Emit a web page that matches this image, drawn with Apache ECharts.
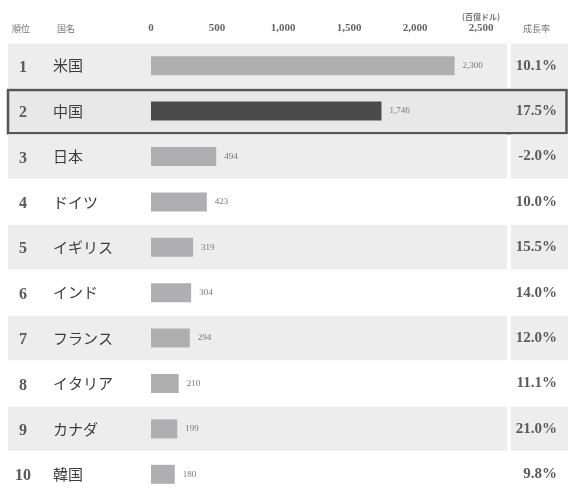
<!DOCTYPE html>
<html>
<head>
<meta charset="utf-8">
<script src="https://cdn.jsdelivr.net/npm/echarts@6/dist/echarts.min.js"></script>
<style>
  html, body { margin: 0; padding: 0; background: #ffffff; }
  #chart { width: 568px; height: 497px; }
</style>
</head>
<body>
<div id="chart"></div>
<script>
// GDP ranking (百億ドル) with growth rates
const ranks = ['1', '2', '3', '4', '5', '6', '7', '8', '9', '10'];
const countries = ['米国', '中国', '日本', 'ドイツ', 'イギリス', 'インド', 'フランス', 'イタリア', 'カナダ', '韓国'];
const gdpValues = [2300, 1746, 494, 423, 319, 304, 294, 210, 199, 180];
const growthRates = ['10.1%', '17.5%', '-2.0%', '10.0%', '15.5%', '14.0%', '12.0%', '11.1%', '21.0%', '9.8%'];
const tickValues = [0, 500, 1000, 1500, 2000, 2500];
const highlightCountry = '中国';

const SERIF = '"Liberation Serif", "DejaVu Serif", serif';
const SANS = '"Noto Sans CJK JP", "Noto Sans", sans-serif';

function commas(v) {
  return String(v).replace(/\B(?=(\d{3})+(?!\d))/g, ',');
}

const chart = echarts.init(document.getElementById('chart'));

const GRID_LEFT = 151;
const GRID_RIGHT = 87;
const ROW_LEFT = 8;      // start of row bands
const MAIN_END = 507;    // end of main band
const RATE_START = 511;  // growth-rate cell
const RATE_END = 568;

chart.setOption({
  animation: false,
  backgroundColor: '#ffffff',
  grid: { left: GRID_LEFT, right: GRID_RIGHT, top: 43, height: 462 },
  xAxis: {
    type: 'value',
    position: 'top',
    min: tickValues[0],
    max: tickValues[tickValues.length - 1],
    interval: 500,
    z: 5,
    axisLine: { show: false },
    axisTick: { show: false },
    splitLine: { show: false },
    axisLabel: {
      margin: 9,
      fontFamily: SERIF,
      fontWeight: 'bold',
      fontSize: 11,
      color: '#666',
      formatter: function (v) {
        if (v === tickValues[tickValues.length - 1]) {
          return '{u|(百億ドル)}\n' + commas(v);
        }
        return commas(v);
      },
      rich: {
        u: { fontFamily: SANS, fontSize: 8, color: '#777', lineHeight: 13 }
      }
    }
  },
  yAxis: [
    {
      type: 'category',
      data: countries,
      inverse: true,
      z: 5,
      axisLine: { show: false },
      axisTick: { show: false },
      splitLine: { show: false },
      axisLabel: {
        align: 'left',
        margin: GRID_LEFT - ROW_LEFT,
        formatter: function (name, idx) {
          return '{r|' + ranks[idx] + '}{n|' + name + '}';
        },
        rich: {
          r: { width: 30, align: 'center', verticalAlign: 'middle', lineHeight: 22, padding: [4, 0, 0, 0], fontFamily: SERIF, fontWeight: 'bold', fontSize: 16, color: '#5a5a5a' },
          n: { padding: [0, 0, 0, 15], verticalAlign: 'middle', lineHeight: 22, fontFamily: SANS, fontWeight: 'normal', fontSize: 15, color: '#3c3c3c' }
        }
      }
    },
    {
      type: 'category',
      data: growthRates,
      inverse: true,
      position: 'right',
      z: 5,
      axisLine: { show: false },
      axisTick: { show: false },
      splitLine: { show: false },
      axisLabel: {
        align: 'right',
        margin: 76,
        fontFamily: SERIF,
        fontWeight: 'bold',
        fontSize: 15,
        color: '#5a5a5a'
      }
    }
  ],
  graphic: [
    { type: 'text', left: 12, top: 24, style: { text: '順位', font: '9px ' + SANS, fill: '#777' } },
    { type: 'text', left: 57, top: 24, style: { text: '国名', font: '9px ' + SANS, fill: '#777' } },
    { type: 'text', left: 523, top: 24, style: { text: '成長率', font: '9px ' + SANS, fill: '#777' } }
  ],
  series: [
    {
      // alternating row bands and highlight frame
      type: 'custom',
      z: 1,
      silent: true,
      clip: false,
      data: countries.map(function (c, i) { return [0, i]; }),
      renderItem: function (params, api) {
        const idx = api.value(1);
        const cy = api.coord([0, idx])[1];
        const h = api.size([0, 1])[1];
        const top = cy - h / 2 + 0.5;
        const bh = h - 1;
        if (countries[idx] === highlightCountry) {
          return {
            type: 'rect',
            shape: { x: ROW_LEFT, y: top + 1, width: RATE_END - 1.5 - ROW_LEFT, height: bh - 1 },
            style: { fill: '#e8e8e8', stroke: '#555', lineWidth: 2.5 }
          };
        }
        if (idx % 2 === 0) {
          return {
            type: 'group',
            children: [
              { type: 'rect', shape: { x: ROW_LEFT, y: top, width: MAIN_END - ROW_LEFT, height: bh }, style: { fill: '#ededed' } },
              { type: 'rect', shape: { x: RATE_START, y: top, width: RATE_END - RATE_START, height: bh }, style: { fill: '#ededed' } }
            ]
          };
        }
        return null;
      }
    },
    {
      type: 'bar',
      z: 3,
      barWidth: 19,
      data: gdpValues.map(function (v, i) {
        return countries[i] === highlightCountry
          ? { value: v, itemStyle: { color: '#4b4b4d' } }
          : { value: v };
      }),
      itemStyle: { color: '#afafb1' },
      label: {
        show: true,
        position: 'right',
        distance: 8,
        fontFamily: SERIF,
        fontSize: 9,
        color: '#777',
        formatter: function (p) { return commas(p.value); }
      }
    }
  ]
});
</script>
</body>
</html>
